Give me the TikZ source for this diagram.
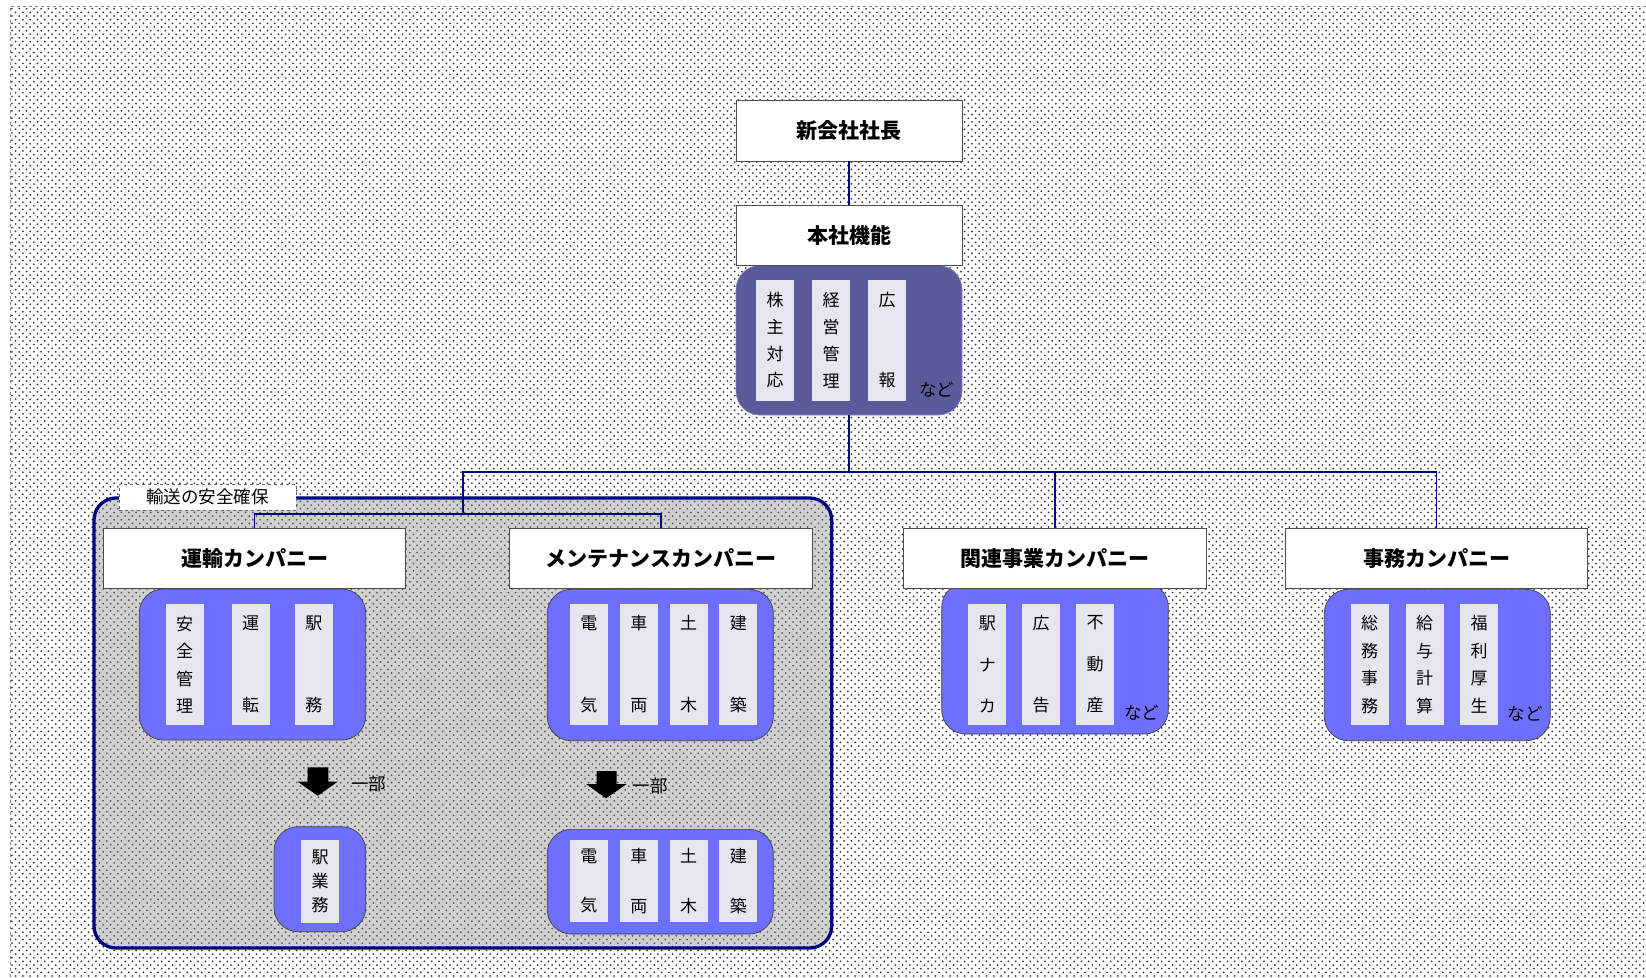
\documentclass[tikz,border=0pt]{standalone}
\usepackage{fontspec}
\newfontfamily\jp{Noto Sans CJK JP}
\usetikzlibrary{patterns}

\definecolor{navyline}{HTML}{000080}
\definecolor{hqfill}{HTML}{5B5B9B}
\definecolor{unitfill}{HTML}{6E6EFF}
\definecolor{cellfill}{HTML}{E6E6EE}
\definecolor{groupfill}{HTML}{D0D0D0}
\definecolor{framepurple}{HTML}{8080C0}
\definecolor{dotgray}{HTML}{3C3C3C}

% staggered dot screen used as the sheet background
\pgfdeclarepatternformonly{bgdots}{\pgfqpoint{-1pt}{-1pt}}{\pgfqpoint{8.3pt}{8.3pt}}{\pgfqpoint{7.3pt}{7.3pt}}{%
  \pgfpathcircle{\pgfqpoint{1pt}{1pt}}{1pt}%
  \pgfpathcircle{\pgfqpoint{4.65pt}{4.65pt}}{1pt}%
  \pgfusepath{fill}}

\begin{document}
\begin{tikzpicture}[x=1pt,y=-1pt,
  hdr/.style={draw=black!70, fill=white, line width=0.8, inner sep=0,
    minimum height=59.6, font=\jp\bfseries\fontsize{21}{24}\selectfont},
  unitbox/.style={draw=black!75, fill=unitfill, line width=0.7, rounded corners=24, inner sep=0},
  cell/.style={fill=cellfill, inner sep=0, minimum width=38, minimum height=121, align=center,
    font=\jp\fontsize{17}{27.5}\selectfont},
  sp/.style={font=\jp\fontsize{17}{#1}\selectfont},
  note/.style={inner sep=0, font=\jp\fontsize{17.5}{20}\selectfont},
  conn/.style={draw=navyline, line width=1.7},
  blockarrow/.style={fill=black}
]
\useasboundingbox (0,0) rectangle (1646,977);
\fill[white] (0,0) rectangle (1646,977);
\fill[pattern=bgdots, pattern color=dotgray] (10,6) rectangle (1646,977);
\draw[framepurple, dashed, line width=0.8] (10,977) -- (10,6) -- (1646,6);

% transport-safety group
\fill[groupfill, rounded corners=22] (94,498) rectangle (831.7,948);
\fill[pattern=bgdots, pattern color=dotgray!85, rounded corners=22] (94,498) rectangle (831.7,948);
\draw[navyline, line width=3.3, rounded corners=22] (94,498) rectangle (831.7,948);

% function panels
\node[unitbox, fill=hqfill, draw=framepurple, minimum width=226, minimum height=149.5] (hqbox) at (849,340.3) {};
\node[unitbox, minimum width=226.4, minimum height=151] (unyubox) at (252.5,664.5) {};
\node[unitbox, minimum width=226, minimum height=151.4] (maintbox) at (660.3,665) {};
\node[unitbox, minimum width=226.6, minimum height=151] (relbox) at (1055,658.5) {};
\node[unitbox, minimum width=226, minimum height=151.4] (jimubox) at (1437.3,665) {};
\node[unitbox, minimum width=91.7, minimum height=105] (ekibox) at (319.9,879.2) {};
\node[unitbox, minimum width=226, minimum height=104.7] (maintlow) at (660.3,881.7) {};

% headings
\node[hdr, minimum width=226, minimum height=60.3] (pres) at (849,130.8) {新会社社長};
\node[hdr, minimum width=226] (hq) at (849,235.4) {本社機能};
\node[hdr, minimum width=302.4] (unyu) at (254.5,558.5) {運輸カンパニー};
\node[hdr, minimum width=303] (maint) at (660.8,558.5) {メンテナンスカンパニー};
\node[hdr, minimum width=302.7] (rel) at (1054.7,558.5) {関連事業カンパニー};
\node[hdr, minimum width=302.4] (jimu) at (1436.5,558.5) {事務カンパニー};

% head-office functions
\node[cell, sp=26.7, minimum height=120.7] (c-kabu) at (775,340.3) {株\\主\\対\\応};
\node[cell, sp=26.7, minimum height=120.7] (c-keiei) at (831,340.3) {経\\営\\管\\理};
\node[cell, sp=80, minimum height=120.7] (c-koho) at (887,340.3) {広\\報};
\node[note] (hq-etc) at (936.7,390) {など};

% transport company
\node[cell] (c-anzen) at (184.5,664.5) {安\\全\\管\\理};
\node[cell, sp=82] (c-unten) at (250.5,664.5) {運\\転};
\node[cell, sp=82] (c-ekimu) at (313.9,664.5) {駅\\務};

% maintenance company
\node[cell, sp=82] (m-denki) at (588.8,664.5) {電\\気};
\node[cell, sp=82] (m-sharyo) at (638.8,664.5) {車\\両};
\node[cell, sp=82] (m-doboku) at (688.5,664.5) {土\\木};
\node[cell, sp=82] (m-kenchiku) at (738.3,664.5) {建\\築};

% related business company
\node[cell, sp=41.5] (r-ekinaka) at (987.3,664.5) {駅\\ナ\\カ};
\node[cell, sp=82] (r-kokoku) at (1041,664.5) {広\\告};
\node[cell, sp=41.5] (r-fudosan) at (1095,664.5) {不\\動\\産};
\node[note] (rel-etc) at (1141.7,712.7) {など};

% administration company
\node[cell] (j-somu) at (1369.5,664.5) {総\\務\\事\\務};
\node[cell] (j-kyuyo) at (1424.5,664.5) {給\\与\\計\\算};
\node[cell] (j-fukuri) at (1479,664.5) {福\\利\\厚\\生};
\node[note] (jimu-etc) at (1525,714) {など};

% parts handed over
\node[cell, sp=24.2, minimum height=82.7] (l-eki) at (320,881.3) {駅\\業\\務};
\node[cell, sp=49.4, minimum height=82.3] (l-denki) at (588.8,881.2) {電\\気};
\node[cell, sp=49.4, minimum height=82.3] (l-sharyo) at (638.8,881.2) {車\\両};
\node[cell, sp=49.4, minimum height=82.3] (l-doboku) at (688.5,881.2) {土\\木};
\node[cell, sp=49.4, minimum height=82.3] (l-kenchiku) at (738.3,881.2) {建\\築};

% block arrows marking the partial transfer
\path[blockarrow] (307.7,767.3) -- (328.3,767.3) -- (328.3,781.7) -- (337.7,781.7)
  -- (317.7,795.7) -- (297.7,781.7) -- (307.7,781.7) -- cycle;
\node[note] (part-l) at (368.7,784.3) {一部};
\path[blockarrow] (596.7,771) -- (616.7,771) -- (616.7,784) -- (626.7,784)
  -- (606,798.3) -- (586,784) -- (596.7,784) -- cycle;
\node[note] (part-r) at (650,786) {一部};

% reporting lines
\coordinate (bus) at (849,472);
\coordinate (sbus) at (462.7,514);
\draw[conn] (pres.south) -- (hq.north);
\draw[conn] (hqbox.south) -- (bus);
\draw[conn] (bus) -| (jimu.north);
\draw[conn] (bus) -| (rel.north);
\draw[conn] (bus) -| (sbus);
\draw[conn] (sbus) -| (unyu.north);
\draw[conn] (sbus) -| (maint.north);

% group caption
\node[draw=black!60, dashed, fill=white, line width=0.6, minimum width=177, minimum height=26,
  inner sep=0, font=\jp\fontsize{17.5}{20}\selectfont] (safety) at (207.7,497) {輸送の安全確保};
\end{tikzpicture}
\end{document}
